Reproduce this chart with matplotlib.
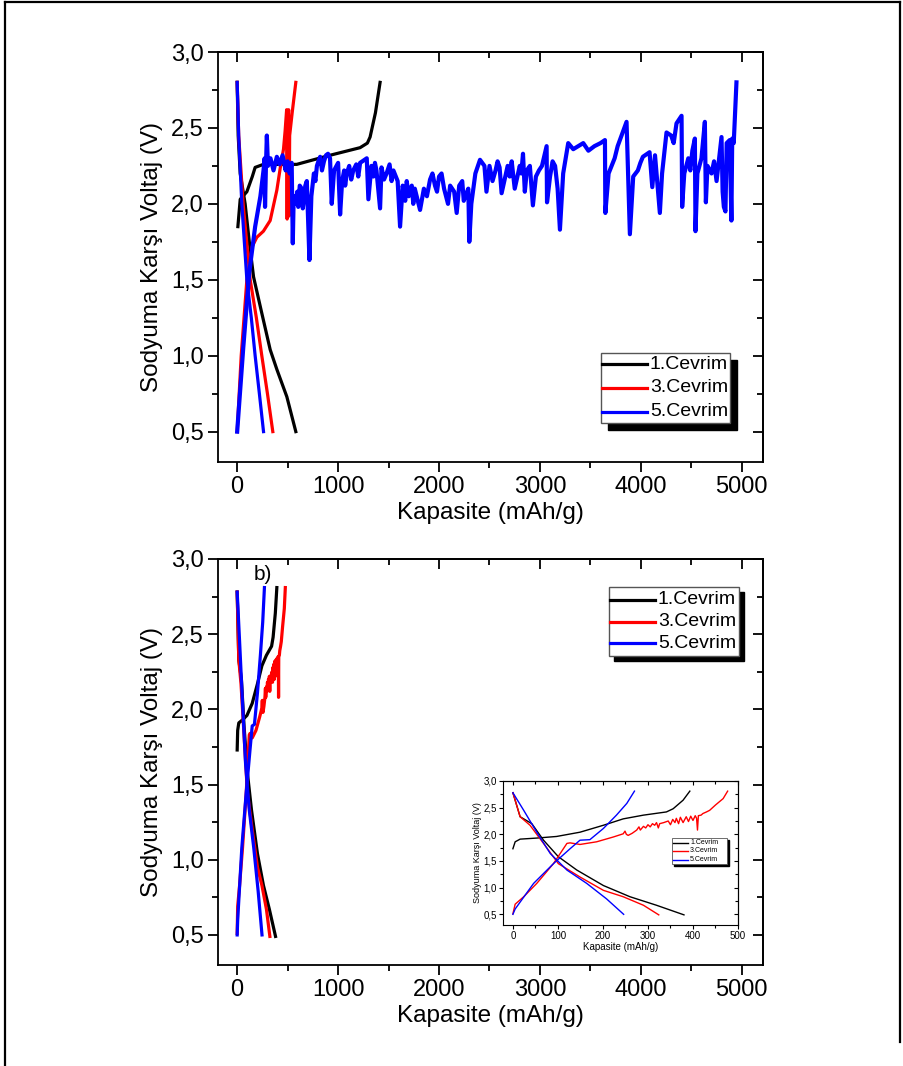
import matplotlib
matplotlib.use("Agg")
import matplotlib.pyplot as plt
from matplotlib.ticker import FuncFormatter, MultipleLocator
from matplotlib.patches import Rectangle
from matplotlib.lines import Line2D

plt.rcParams['font.family'] = ['Liberation Sans', 'DejaVu Sans']

# ---------------- data ----------------
series_labels = ["1.Cevrim", "3.Cevrim", "5.Cevrim"]
series_colors = ["black", "red", "blue"]

# Panel a
a1_dis_x = [0, 10, 30, 79, 120, 162, 244, 327, 393, 492, 581]
a1_dis_y = [2.80, 2.45, 2.20, 2.00, 1.75, 1.52, 1.28, 1.04, 0.91, 0.73, 0.50]
a1_chg_x = [7, 30, 96, 150, 178, 260, 590, 920, 1218, 1290, 1317, 1370, 1416]
a1_chg_y = [1.85, 2.03, 2.08, 2.18, 2.24, 2.26, 2.26, 2.32, 2.37, 2.40, 2.44, 2.60, 2.80]

a3_dis_x = [0, 15, 59, 129, 190, 244, 300, 353]
a3_dis_y = [2.80, 2.45, 2.00, 1.50, 1.25, 1.00, 0.75, 0.50]
a3_chg_x = [0, 40, 96, 150, 195, 260, 327, 393, 430, 459, 475, 490, 495, 500, 510, 515, 520, 545, 581]
a3_chg_y = [0.50, 1.00, 1.50, 1.72, 1.78, 1.82, 1.89, 2.09, 2.25, 2.36, 2.48, 2.62, 1.90, 2.55, 2.62, 1.92, 2.45, 2.60, 2.80]

a5_dis_x = [0, 15, 46, 96, 140, 178, 220, 261]
a5_dis_y = [2.80, 2.45, 2.00, 1.50, 1.25, 1.00, 0.75, 0.50]
a5_chg_x = [
    0, 60, 120, 178, 230, 261, 272, 276, 285, 294,
    305, 330, 360, 393, 420, 450, 480, 500, 520, 540,
    551, 560, 580, 595, 605, 620, 640, 650, 660, 675,
    690, 716, 735, 760, 775, 790, 805, 822, 840, 860,
    880, 900, 920, 937, 960, 1000, 1020, 1040, 1060, 1070,
    1086, 1110, 1130, 1150, 1180, 1200, 1218, 1284, 1300, 1330,
    1350, 1365, 1380, 1416, 1430, 1455, 1480, 1510, 1530, 1548,
    1590, 1614, 1640, 1665, 1680, 1700, 1730, 1745, 1760, 1812,
    1850, 1880, 1911, 1935, 1960, 1980, 2000, 2025, 2050, 2089,
    2110, 2150, 2175, 2200, 2230, 2245, 2260, 2290, 2300, 2320,
    2360, 2406, 2450, 2470, 2500, 2530, 2560, 2580, 2600, 2620,
    2680, 2700, 2720, 2750, 2800, 2815, 2832, 2850, 2870, 2900,
    2930, 2960, 2990, 3020, 3066, 3070, 3100, 3125, 3150, 3175,
    3198, 3230, 3280, 3330, 3380, 3429, 3480, 3540, 3600, 3644,
    3648, 3680, 3710, 3740, 3770, 3808, 3858, 3891, 3924, 3970,
    3995, 4020, 4086, 4113, 4140, 4188, 4210, 4254, 4300, 4325,
    4353, 4403, 4409, 4430, 4450, 4470, 4490, 4510, 4535, 4541,
    4560, 4600, 4634, 4644, 4660, 4700, 4725, 4750, 4775, 4799,
    4810, 4822, 4838, 4850, 4880, 4897, 4905, 4920, 4947]
a5_chg_y = [
    0.50, 1.05, 1.55, 1.85, 2.05, 2.22, 2.30, 1.98, 2.25, 2.45,
    2.25, 2.30, 2.22, 2.31, 2.26, 2.32, 2.22, 2.28, 2.20, 2.27,
    1.74, 2.05, 2.00, 2.08, 1.98, 2.12, 2.10, 1.97, 2.02, 2.12,
    2.15, 1.63, 2.05, 2.20, 2.15, 2.25, 2.28, 2.31, 2.22, 2.28,
    2.32, 2.33, 2.30, 2.00, 2.22, 2.27, 1.93, 2.15, 2.22, 2.12,
    2.20, 2.25, 2.16, 2.22, 2.26, 2.18, 2.27, 2.30, 2.03, 2.25,
    2.18, 2.27, 2.22, 1.97, 2.24, 2.16, 2.20, 2.26, 2.15, 2.22,
    2.15, 1.85, 2.12, 2.02, 2.15, 2.05, 2.12, 2.00, 2.10, 1.96,
    2.10, 2.05, 2.16, 2.20, 2.12, 2.08, 2.18, 2.20, 2.10, 2.00,
    2.12, 2.08, 1.94, 2.12, 2.15, 2.02, 2.05, 2.10, 1.75, 2.00,
    2.20, 2.29, 2.25, 2.08, 2.25, 2.15, 2.22, 2.28, 2.24, 2.07,
    2.25, 2.18, 2.28, 2.10, 2.25, 2.20, 2.33, 2.08, 2.22, 2.25,
    1.99, 2.18, 2.22, 2.25, 2.38, 2.01, 2.18, 2.28, 2.25, 2.10,
    1.83, 2.20, 2.40, 2.36, 2.38, 2.40, 2.35, 2.38, 2.40, 2.42,
    1.94, 2.20, 2.25, 2.30, 2.38, 2.45, 2.54, 1.80, 2.18, 2.22,
    2.27, 2.31, 2.34, 2.11, 2.32, 1.94, 2.20, 2.47, 2.45, 2.40,
    2.53, 2.58, 1.98, 2.20, 2.25, 2.30, 2.22, 2.35, 2.43, 1.82,
    2.20, 2.30, 2.54, 2.01, 2.25, 2.20, 2.28, 2.15, 2.30, 2.44,
    2.08, 1.98, 1.95, 2.40, 2.42, 1.89, 2.43, 2.40, 2.80]

# Panel b (also the inset)
b1_dis_x = [0, 16, 42, 68, 101, 142, 201, 260, 319, 380]
b1_dis_y = [2.78, 2.33, 2.20, 1.89, 1.58, 1.33, 1.04, 0.83, 0.67, 0.49]
b1_chg_x = [0, 5, 16, 53, 97, 149, 201, 245, 290, 341, 356, 378, 393]
b1_chg_y = [1.73, 1.86, 1.91, 1.93, 1.96, 2.04, 2.17, 2.29, 2.36, 2.42, 2.48, 2.64, 2.81]

b3_dis_x = [0, 16, 38, 68, 101, 149, 201, 245, 290, 324]
b3_dis_y = [2.78, 2.33, 2.17, 1.83, 1.45, 1.20, 0.95, 0.83, 0.67, 0.49]
b3_chg_x = [0, 5, 24, 53, 90, 120, 127, 149, 186, 223, 245, 249, 252, 256, 265, 275, 280, 283,
            290, 295, 300, 305, 310, 315, 319, 323, 326, 335, 345, 350, 355, 360, 363, 368, 372,
            378, 385, 390, 395, 400, 405, 408, 410, 412, 418, 422, 430, 437, 450, 467, 477]
b3_chg_y = [0.51, 0.69, 0.83, 1.08, 1.45, 1.83, 1.84, 1.81, 1.86, 1.95, 2.01, 2.06, 2.00, 1.98,
            2.02, 2.08, 2.14, 2.08, 2.15, 2.12, 2.18, 2.14, 2.20, 2.17, 2.22, 2.12, 2.20, 2.22,
            2.25, 2.18, 2.28, 2.22, 2.30, 2.20, 2.32, 2.22, 2.33, 2.24, 2.34, 2.26, 2.35, 2.30,
            2.08, 2.35, 2.36, 2.39, 2.42, 2.45, 2.55, 2.67, 2.81]

b5_dis_x = [0, 24, 53, 83, 120, 164, 208, 246]
b5_dis_y = [2.78, 2.45, 2.04, 1.64, 1.33, 1.08, 0.79, 0.50]
b5_chg_x = [0, 5, 46, 90, 127, 149, 171, 201, 230, 253, 270]
b5_chg_y = [0.50, 0.60, 1.08, 1.45, 1.73, 1.89, 1.90, 2.11, 2.36, 2.58, 2.81]

main_xticks = [0, 1000, 2000, 3000, 4000, 5000]
main_yticks = [0.5, 1.0, 1.5, 2.0, 2.5, 3.0]
inset_xticks = [0, 100, 200, 300, 400, 500]

ylabel_text = "Sodyuma Karşı Voltaj (V)"
xlabel_text = "Kapasite (mAh/g)"

# ---------------- figure ----------------
W, H = 904, 1066
fig = plt.figure(figsize=(W / 100, H / 100), dpi=100)


def fx(px):
    return px / W


def fy(py):
    return 1 - py / H


comma = FuncFormatter(lambda v, p: f"{v:.1f}".replace('.', ','))


def style_axes(ax, fs, major_len, minor_len, lw):
    for s in ax.spines.values():
        s.set_linewidth(lw)
    ax.tick_params(which='both', direction='out', top=False, right=False,
                   labelsize=fs, width=lw, pad=3)
    ax.tick_params(which='major', length=major_len)
    ax.tick_params(which='minor', length=minor_len)
    sec_x = ax.secondary_xaxis('top')
    sec_y = ax.secondary_yaxis('right')
    for sec in (sec_x, sec_y):
        sec.tick_params(which='both', direction='in', width=lw, labelsize=0)
        sec.tick_params(which='major', length=major_len)
        sec.tick_params(which='minor', length=minor_len)
        for s in sec.spines.values():
            s.set_linewidth(lw)
    return sec_x, sec_y


def setup_main(ax):
    ax.set_xlim(-190, 5210)
    ax.set_ylim(0.3, 3.0)
    ax.xaxis.set_minor_locator(MultipleLocator(500))
    ax.yaxis.set_minor_locator(MultipleLocator(0.25))
    ax.yaxis.set_major_formatter(comma)
    ax.set_xticks(main_xticks)
    ax.set_yticks(main_yticks)
    sx, sy = style_axes(ax, 17, 7, 4, 1.3)
    sx.xaxis.set_major_locator(MultipleLocator(1000))
    sx.xaxis.set_minor_locator(MultipleLocator(500))
    sx.set_xticklabels([])
    sy.yaxis.set_major_locator(MultipleLocator(0.5))
    sy.yaxis.set_minor_locator(MultipleLocator(0.25))
    sy.set_yticklabels([])
    ax.set_xlabel(xlabel_text, fontsize=17.5, labelpad=3)
    ax.set_ylabel(ylabel_text, fontsize=17.5, labelpad=6)


def draw_legend(x0, y0, x1, y1, off, rows_y, line_x0, line_x1, text_x, fs, lw, edge_lw):
    fig.add_artist(Rectangle((fx(x0 + off), fy(y1 + off)), fx(x1 - x0), (y1 - y0) / H,
                             transform=fig.transFigure, facecolor='black', edgecolor='black', zorder=10))
    fig.add_artist(Rectangle((fx(x0), fy(y1)), fx(x1 - x0), (y1 - y0) / H,
                             transform=fig.transFigure, facecolor='white', edgecolor='#555555',
                             linewidth=edge_lw, zorder=11))
    for lab, col, ry in zip(series_labels, series_colors, rows_y):
        fig.add_artist(Line2D([fx(line_x0), fx(line_x1)], [fy(ry), fy(ry)], transform=fig.transFigure,
                              color=col, linewidth=lw, zorder=12))
        fig.text(fx(text_x), fy(ry), lab, fontsize=fs, va='center', ha='left', zorder=12)


# ---- panel a ----
axA = fig.add_axes([fx(218), fy(462), fx(763 - 218), (462 - 52) / H])
setup_main(axA)
lwA = 2.3
axA.plot(a1_dis_x, a1_dis_y, color='black', lw=lwA)
axA.plot(a1_chg_x, a1_chg_y, color='black', lw=lwA)
axA.plot(a3_dis_x, a3_dis_y, color='red', lw=lwA)
axA.plot(a3_chg_x, a3_chg_y, color='red', lw=lwA)
axA.plot(a5_dis_x, a5_dis_y, color='blue', lw=lwA)
axA.plot(a5_chg_x, a5_chg_y, color='blue', lw=3.0)
draw_legend(601, 353, 730, 423, 7, [364, 388, 412], 602, 647, 650, 14, 2.3, 1.0)

# ---- panel b ----
axB = fig.add_axes([fx(218), fy(965), fx(763 - 218), (965 - 559) / H])
setup_main(axB)
axB.plot(b1_dis_x, b1_dis_y, color='black', lw=lwA)
axB.plot(b1_chg_x, b1_chg_y, color='black', lw=lwA)
axB.plot(b3_dis_x, b3_dis_y, color='red', lw=lwA)
axB.plot(b3_chg_x, b3_chg_y, color='red', lw=lwA)
axB.plot(b5_dis_x, b5_dis_y, color='blue', lw=lwA)
axB.plot(b5_chg_x, b5_chg_y, color='blue', lw=lwA)
axB.text(fx(263), fy(574), "b)", transform=fig.transFigure, fontsize=15, ha='center', va='center')
draw_legend(609, 587, 739, 656, 5, [600, 622, 643], 610, 655, 658, 14, 2.3, 1.0)

# ---- inset ----
axI = fig.add_axes([fx(503), fy(925), fx(738 - 503), (925 - 781) / H])
axI.set_xlim(-22, 500)
axI.set_ylim(0.3, 3.0)
axI.xaxis.set_minor_locator(MultipleLocator(50))
axI.yaxis.set_minor_locator(MultipleLocator(0.25))
axI.yaxis.set_major_formatter(comma)
axI.set_xticks(inset_xticks)
axI.set_yticks(main_yticks)
sx, sy = style_axes(axI, 7, 3, 2, 0.8)
sx.xaxis.set_major_locator(MultipleLocator(100))
sx.xaxis.set_minor_locator(MultipleLocator(50))
sx.set_xticklabels([])
sy.yaxis.set_major_locator(MultipleLocator(0.5))
sy.yaxis.set_minor_locator(MultipleLocator(0.25))
sy.set_yticklabels([])
axI.tick_params(pad=1.5)
lwI = 1.0
axI.plot(b1_dis_x, b1_dis_y, color='black', lw=lwI)
axI.plot(b1_chg_x, b1_chg_y, color='black', lw=lwI)
axI.plot(b3_dis_x, b3_dis_y, color='red', lw=lwI)
axI.plot(b3_chg_x, b3_chg_y, color='red', lw=lwI)
axI.plot(b5_dis_x, b5_dis_y, color='blue', lw=lwI)
axI.plot(b5_chg_x, b5_chg_y, color='blue', lw=lwI)
axI.set_xlabel(xlabel_text, fontsize=7, labelpad=0.5)
axI.set_ylabel(ylabel_text, fontsize=6.5, labelpad=1)
draw_legend(672, 838, 727, 864, 2, [842.5, 851, 859.5], 673, 688, 690, 5, 1.0, 0.6)

# ---- outer frame ----
for (xa, ya, xb, yb) in [(5, 1066, 5, 2), (5, 2, 900, 2), (900, 2, 900, 1042)]:
    fig.add_artist(Line2D([fx(xa), fx(xb)], [fy(ya), fy(yb)], transform=fig.transFigure,
                          color='black', linewidth=1.6))

fig.savefig("out.png", dpi=100)
